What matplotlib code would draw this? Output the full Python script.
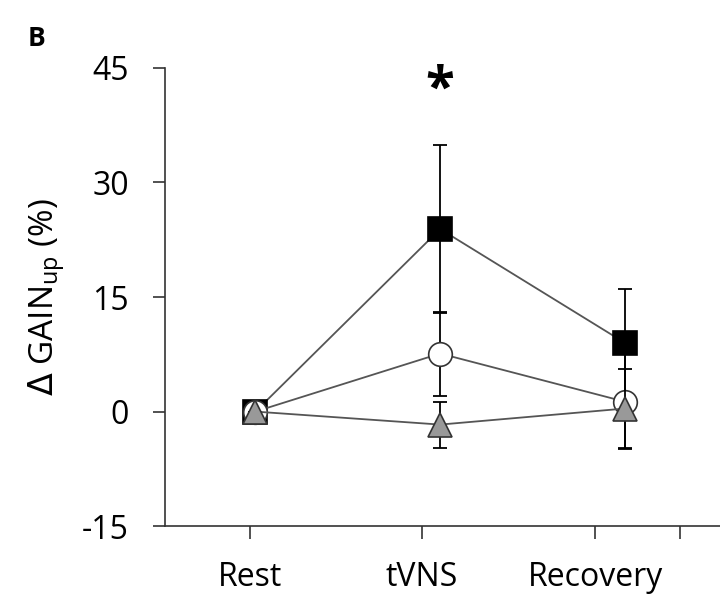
import numpy as np
import matplotlib.pyplot as plt

plt.rcParams['font.family'] = ['Open Sans', 'DejaVu Sans']
plt.rcParams['axes.unicode_minus'] = False

# data
phases = ['Rest', 'tVNS', 'Recovery']
sq_mean = [0.0, 23.9, 9.0]
sq_err = [0.0, 11.0, 7.0]
ci_mean = [0.0, 7.6, 1.3]
ci_err = [0.0, 5.5, 6.2]
tr_mean = [0.0, -1.7, 0.4]
tr_err = [0.0, 3.0, 5.2]

# category tick positions are slightly offset from the data in the original figure
tick_pos = [-0.03, 0.9, 1.84, 2.3]
tick_lab = ['Rest', 'tVNS', 'Recovery', '']

x = np.arange(len(phases))

fig = plt.figure(figsize=(7.2, 6), dpi=100)
ax = fig.add_axes([0.229, 0.123, 0.78, 0.764])

series = [
    (sq_mean, sq_err, 's', 'black', 'black', 17),
    (ci_mean, ci_err, 'o', 'white', '#333333', 17),
    (tr_mean, tr_err, '^', '#999999', '#333333', 17),
]
for i, (m, e, mk, fc, ec, ms) in enumerate(series):
    ax.errorbar(x, m, yerr=e, fmt='none', ecolor='black', elinewidth=1.3,
                capsize=5, capthick=1.3, zorder=2 + i)
    ax.plot(x, m, color='#555555', lw=1.3, marker=mk, markersize=ms,
            markerfacecolor=fc, markeredgecolor=ec, markeredgewidth=1.2,
            zorder=2.5 + i)

ax.text(x[1], 42, '*', ha='center', va='center', fontsize=38, fontweight='bold')

ax.set_ylim(-15, 45)
ax.set_yticks([-15, 0, 15, 30, 45])
ax.set_xlim(-0.49, 2.55)
ax.set_xticks(tick_pos)
ax.set_xticklabels(tick_lab)
ax.tick_params(axis='both', direction='out', length=9, width=1.2, labelsize=23,
               colors='#333333', labelcolor='black')
ax.tick_params(axis='x', pad=16)
ax.tick_params(axis='y', pad=17)
for s in ['top', 'right']:
    ax.spines[s].set_visible(False)
for s in ['left', 'bottom']:
    ax.spines[s].set_linewidth(1.2)
    ax.spines[s].set_color('#333333')

ax.set_ylabel(r'$\Delta$ GAIN$_\mathregular{up}$ (%)', fontsize=24, labelpad=10)
fig.text(0.05, 0.935, 'B', fontsize=19, fontweight='bold', ha='center', va='center')

fig.savefig('out.png', dpi=100)
